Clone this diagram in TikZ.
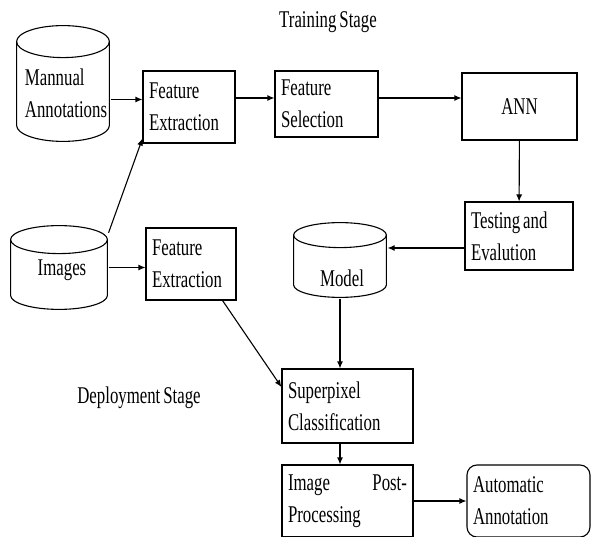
\documentclass[tikz,border=0pt]{standalone}
\usepackage{fontspec}
\setmainfont{Liberation Serif}[FakeStretch=0.7,WordSpace=0.7]
\usetikzlibrary{arrows.meta,positioning}

\begin{document}
\begin{tikzpicture}[x=1pt,y=-1pt,line width=1.1pt]
\tikzset{BOX/.style={draw,rectangle,align=flush left,inner xsep=6pt,font=\fontsize{24}{32}\selectfont}}
\tikzset{ROUNDED BOX/.style={BOX,rounded corners=10pt}}
\tikzset{STORE/.style n args={3}{rectangle,inner sep=0pt,minimum width=#1,minimum height=#2,
  path picture={
    \draw ([xshift=0.6pt,yshift={-#3-0.6pt}]path picture bounding box.north west)
      -- ([xshift=0.6pt,yshift={#3+0.6pt}]path picture bounding box.south west)
      arc[start angle=180,end angle=360,x radius={#1/2-0.6pt},y radius=#3]
      -- ([xshift=-0.6pt,yshift={-#3-0.6pt}]path picture bounding box.north east);
    \draw ([yshift={-#3-0.6pt}]path picture bounding box.north) ellipse[x radius={#1/2-0.6pt},y radius=#3];
  }}}
\tikzset{STORE TEXT/.style={align=flush left,inner sep=0pt,font=\fontsize{24}{32}\selectfont}}
\tikzset{FLOW/.style={draw,-{Latex[length=7pt,width=6pt]}}}
\tikzset{STAGE/.style={font=\fontsize{24}{32}\selectfont}}

\useasboundingbox (0,0) rectangle (592,537);

% training stage
\node[STAGE] (training) at (328,22) {Training Stage};
\node[STORE={94pt}{117pt}{16pt},
  label={[STORE TEXT,xshift=3pt,yshift=-10pt]center:Mannual\\Annotations}] (annotations) at (63,83.5) {};
\node[STORE={98pt}{85pt}{14pt},
  label={[STORE TEXT,xshift=3pt,yshift=-2.5pt]center:Images}] (images) at (59,267.5) {};
\node[BOX,text width=80pt,minimum height=72pt] (extraction) at (189,107) {Feature\\Extraction};
\node[BOX,text width=91pt,minimum height=66pt] (selection) at (326.5,104) {Feature\\Selection};
\node[BOX,text width=103pt,minimum height=67pt,align=center] (ann) at (519.5,106.5) {ANN};
\node[BOX,text width=96pt,minimum height=68pt] (testing) at (519,236) {Testing and\\Evalution};
\node[STORE={94pt}{76pt}{12.5pt},
  label={[STORE TEXT,xshift=2pt,yshift=-18pt]center:Model}] (model) at (340,260) {};

% deployment stage
\node[STAGE] (deployment) at (139,398) {Deployment Stage};
\node[BOX,text width=78pt,minimum height=72pt] (extraction2) at (191,264) {Feature\\Extraction};
\node[BOX,text width=119pt,minimum height=74pt] (superpixel) at (347.5,406) {Superpixel\\Classification};
\node[BOX,text width=119pt,minimum height=72pt] (postprocessing) at (347.5,501) {Image\hfill Post-\\Processing};
\node[ROUNDED BOX,text width=111pt,minimum height=72pt] (automatic) at (528.5,501) {Automatic\\Annotation};

\path[FLOW] ([yshift=-16pt]annotations.east) -- ([yshift=-16pt]annotations.east -| extraction.west);
\path[FLOW] (images.35) -- ([yshift=5pt]extraction.south west);
\path[FLOW] ([yshift=9pt]extraction.east) -- ([yshift=9pt]extraction.east -| selection.west);
\path[FLOW] ([yshift=6pt]selection.east) -- ([yshift=6pt]selection.east -| ann.west);
\path[FLOW] (ann) -- (testing);
\path[FLOW] ([yshift=-12pt]testing.west) -- ([yshift=-12pt]testing.west -| model.east);

\path[FLOW] (images) -- (images -| extraction2.west);
\path[FLOW] ([xshift=-14pt]extraction2.south east) -- ([yshift=19pt]superpixel.west);
\path[FLOW] (model) -- (model |- superpixel.north);
\path[FLOW] (superpixel.south -| model) -- (postprocessing.north -| model);
\path[FLOW] (postprocessing) -- (automatic);

\end{tikzpicture}
\end{document}
